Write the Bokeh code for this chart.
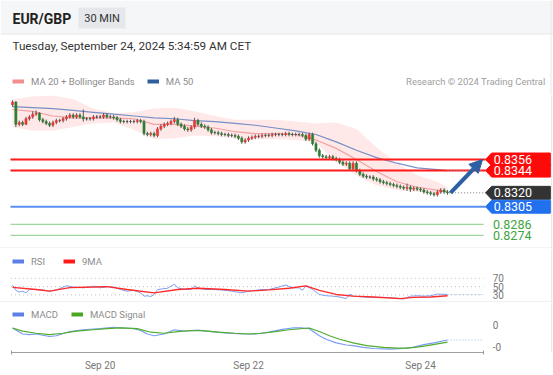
from bokeh.plotting import figure
from bokeh.layouts import column
from bokeh.models import (Range1d, Label, Legend, LegendItem, Span, Arrow, NormalHead,
                          FixedTicker, BoxAnnotation, ColumnDataSource)
from bokeh.core.properties import value
from bokeh.embed import file_html
from bokeh.resources import INLINE

FONT = "Roboto"
W = 553

# ---------------- data ----------------
first_open = 0.8415
closes = [
    0.8418, 0.8394, 0.8396, 0.8394, 0.8400, 0.8402, 0.8405, 0.8406, 0.8399, 0.8397,
    0.8395, 0.8393, 0.8396, 0.8398, 0.8398, 0.8400, 0.8402, 0.8404, 0.8402, 0.8404,
    0.8402, 0.8400, 0.8400, 0.8400, 0.8402, 0.8402, 0.8402, 0.8404, 0.8402, 0.8402,
    0.8401, 0.8399, 0.8397, 0.8397, 0.8397, 0.8397, 0.8397, 0.8398, 0.8397, 0.8384,
    0.8383, 0.8384, 0.8382, 0.8389, 0.8392, 0.8394, 0.8395, 0.8397, 0.8399, 0.8394,
    0.8392, 0.8389, 0.8388, 0.8391, 0.8398, 0.8394, 0.8392, 0.8391, 0.8388, 0.8385,
    0.8385, 0.8384, 0.8383, 0.8383, 0.8382, 0.8382, 0.8381, 0.8379, 0.8375, 0.8377,
    0.8379, 0.8380, 0.8381, 0.8381, 0.8382, 0.8382, 0.8382, 0.8383, 0.8383, 0.8383,
    0.8383, 0.8384, 0.8383, 0.8383, 0.8383, 0.8383, 0.8382, 0.8378, 0.8383, 0.8373,
    0.8366, 0.8360, 0.8359, 0.8358, 0.8359, 0.8357, 0.8356, 0.8353, 0.8351, 0.8352,
    0.8346, 0.8352, 0.8344, 0.8340, 0.8338, 0.8337, 0.8337, 0.8335, 0.8334, 0.8332,
    0.8331, 0.8330, 0.8329, 0.8328, 0.8327, 0.8326, 0.8325, 0.8326, 0.8324, 0.8325,
    0.8324, 0.8323, 0.8321, 0.8320, 0.8319, 0.8318, 0.8321, 0.8323, 0.8321, 0.8320,
]
highs = [
    0.8420, 0.8419, 0.8398, 0.8398, 0.8402, 0.8404, 0.8408, 0.8409, 0.8407, 0.8401,
    0.8399, 0.8397, 0.8398, 0.8400, 0.8400, 0.8402, 0.8404, 0.8406, 0.8406, 0.8406,
    0.8406, 0.8410, 0.8402, 0.8402, 0.8404, 0.8404, 0.8404, 0.8406, 0.8406, 0.8404,
    0.8404, 0.8403, 0.8401, 0.8399, 0.8399, 0.8399, 0.8399, 0.8400, 0.8400, 0.8399,
    0.8386, 0.8386, 0.8386, 0.8391, 0.8394, 0.8396, 0.8397, 0.8399, 0.8402, 0.8401,
    0.8396, 0.8394, 0.8391, 0.8393, 0.8401, 0.8400, 0.8396, 0.8394, 0.8393, 0.8390,
    0.8387, 0.8387, 0.8386, 0.8385, 0.8385, 0.8384, 0.8384, 0.8383, 0.8381, 0.8379,
    0.8381, 0.8382, 0.8383, 0.8383, 0.8384, 0.8384, 0.8384, 0.8385, 0.8385, 0.8385,
    0.8385, 0.8386, 0.8386, 0.8385, 0.8385, 0.8385, 0.8385, 0.8384, 0.8385, 0.8385,
    0.8375, 0.8368, 0.8362, 0.8361, 0.8361, 0.8361, 0.8359, 0.8358, 0.8355, 0.8354,
    0.8354, 0.8354, 0.8354, 0.8346, 0.8342, 0.8340, 0.8339, 0.8339, 0.8337, 0.8336,
    0.8334, 0.8333, 0.8332, 0.8331, 0.8330, 0.8329, 0.8328, 0.8330, 0.8328, 0.8327,
    0.8327, 0.8326, 0.8325, 0.8323, 0.8322, 0.8321, 0.8323, 0.8325, 0.8325, 0.8323,
]
lows = [
    0.8413, 0.8391, 0.8392, 0.8392, 0.8393, 0.8398, 0.8400, 0.8403, 0.8397, 0.8395,
    0.8393, 0.8391, 0.8391, 0.8394, 0.8396, 0.8396, 0.8398, 0.8400, 0.8400, 0.8400,
    0.8400, 0.8397, 0.8398, 0.8398, 0.8398, 0.8400, 0.8400, 0.8400, 0.8400, 0.8400,
    0.8399, 0.8397, 0.8395, 0.8395, 0.8395, 0.8395, 0.8395, 0.8395, 0.8395, 0.8382,
    0.8381, 0.8381, 0.8380, 0.8380, 0.8387, 0.8390, 0.8392, 0.8393, 0.8395, 0.8392,
    0.8390, 0.8387, 0.8386, 0.8386, 0.8389, 0.8392, 0.8390, 0.8389, 0.8386, 0.8383,
    0.8383, 0.8382, 0.8381, 0.8381, 0.8380, 0.8380, 0.8379, 0.8377, 0.8373, 0.8373,
    0.8375, 0.8377, 0.8378, 0.8379, 0.8379, 0.8380, 0.8380, 0.8380, 0.8381, 0.8381,
    0.8381, 0.8381, 0.8381, 0.8381, 0.8381, 0.8381, 0.8380, 0.8376, 0.8376, 0.8371,
    0.8364, 0.8358, 0.8357, 0.8356, 0.8356, 0.8355, 0.8354, 0.8351, 0.8349, 0.8349,
    0.8344, 0.8344, 0.8342, 0.8338, 0.8336, 0.8335, 0.8335, 0.8333, 0.8332, 0.8330,
    0.8329, 0.8328, 0.8327, 0.8326, 0.8325, 0.8324, 0.8323, 0.8322, 0.8321, 0.8322,
    0.8322, 0.8321, 0.8319, 0.8318, 0.8317, 0.8316, 0.8316, 0.8319, 0.8319, 0.8318,
]
opens = [first_open] + closes[:-1]

band_idx = [0, 6, 12, 18, 24, 30, 36, 42, 48, 54, 60, 66, 72, 78, 84, 90, 96, 102, 108, 114, 120, 126, 129]
ma50 = [0.8413, 0.8412, 0.8411, 0.8409, 0.8407, 0.8405, 0.8403, 0.8401, 0.8400, 0.8398, 0.8397, 0.8395,
        0.8393, 0.8390, 0.8387, 0.8383, 0.8375, 0.8366, 0.8358, 0.8352, 0.8347, 0.8345, 0.8344]
ma20 = [0.8410, 0.8408, 0.8403, 0.8401, 0.8401, 0.8401, 0.8400, 0.8394, 0.8394, 0.8392, 0.8390, 0.8386,
        0.8384, 0.8384, 0.8383, 0.8377, 0.8368, 0.8356, 0.8343, 0.8332, 0.8326, 0.8323, 0.8321]
bb_upper = [0.8421, 0.8424, 0.8425, 0.8421, 0.8411, 0.8406, 0.8407, 0.8411, 0.8412, 0.8408, 0.8403, 0.8399,
            0.8399, 0.8399, 0.8397, 0.8395, 0.8396, 0.8389, 0.8369, 0.8352, 0.8339, 0.8332, 0.8326]
bb_lower = [0.8391, 0.8387, 0.8387, 0.8391, 0.8395, 0.8396, 0.8388, 0.8378, 0.8379, 0.8382, 0.8381, 0.8379,
            0.8378, 0.8378, 0.8377, 0.8374, 0.8353, 0.8339, 0.8328, 0.8323, 0.8321, 0.8319, 0.8320]

resistance = [0.8356, 0.8344]
last_price = closes[-1]
support = [0.8305]
support_far = [0.8286, 0.8274]

rsi_idx = [0, 1, 2, 3, 4, 5, 7, 9, 11, 13, 16, 18, 21, 24, 26, 28, 30, 32, 34, 36,
           38, 39, 40, 41, 42, 43, 46, 48, 49, 51, 53, 54, 55, 57, 59, 62, 65, 68, 70, 72,
           74, 76, 79, 81, 83, 85, 86, 87, 89, 91, 93, 95, 97, 99, 100, 101, 104, 107, 111, 114,
           116, 118, 120, 122, 124, 126, 129]
rsi_vals = [54, 41, 37, 39, 35, 43, 43, 42, 39, 42, 52, 49, 47, 51, 47, 50, 49, 43, 39, 41,
            35, 27, 28, 26, 31, 43, 46, 56, 47, 43, 43, 52, 47, 43, 43, 42, 39, 35, 39, 41,
            43, 43, 49, 54, 47, 47, 41, 52, 43, 31, 28, 27, 25, 21, 32, 27, 25, 24, 24, 22,
            20, 27, 28, 27, 28, 32, 31]
rsi_ma_idx = [0, 7, 11, 17, 24, 28, 34, 42, 49, 55, 63, 70, 76, 82, 87, 91, 96, 101, 107, 115, 119, 124, 129]
rsi_ma_vals = [48, 43, 39, 47.5, 49, 50, 43, 35, 43, 46, 43, 39, 42, 46, 52, 41, 31, 27, 25, 21, 24, 25, 28]
rsi_levels = [70, 50, 30]

macd_idx = [0, 3, 5, 7, 11, 13, 17, 21, 26, 30, 33, 36, 38, 40, 42, 45, 48, 51, 55, 59,
            63, 68, 72, 76, 80, 83, 86, 88, 91, 93, 96, 99, 101, 104, 107, 112, 116, 119, 122, 125, 129]
macd_vals = [-0.000057, -0.000165, -0.000178, -0.000165, -0.000210, -0.000197, -0.000121, -0.000089,
             -0.000070, -0.000044, -0.000057, -0.000070, -0.000102, -0.000165, -0.000197, -0.000165,
             -0.000089, -0.000114, -0.000095, -0.000121, -0.000146, -0.000165, -0.000165, -0.000133,
             -0.000083, -0.000057, -0.000057, -0.000070, -0.000197, -0.000260, -0.000324, -0.000362,
             -0.000375, -0.000406, -0.000425, -0.000438, -0.000425, -0.000400, -0.000356, -0.000324,
             -0.000273]
signal_idx = [0, 3, 7, 11, 15, 19, 24, 28, 32, 37, 41, 45, 49, 53, 57, 61, 66, 70, 74, 78,
              82, 88, 91, 94, 97, 101, 105, 110, 114, 117, 120, 123, 126, 129]
signal_vals = [-0.000057, -0.000114, -0.000152, -0.000178, -0.000152, -0.000114, -0.000089, -0.000070,
               -0.000057, -0.000070, -0.000133, -0.000152, -0.000121, -0.000102, -0.000108, -0.000133,
               -0.000152, -0.000165, -0.000152, -0.000121, -0.000089, -0.000057, -0.000121, -0.000197,
               -0.000260, -0.000324, -0.000375, -0.000406, -0.000419, -0.000419, -0.000400, -0.000375,
               -0.000343, -0.000311]
macd_ticks = [0.0, -0.0004]
macd_tick_labels = ["0", "-0"]

date_ticks = [26, 70, 121]
date_labels = ["Sep 20", "Sep 22", "Sep 24"]

BORDER = "#e4e6e9"
X0, X1 = -3.559, 160.44          # shared x range of all panels (candle index)
AX0, AX1 = -0.42, 139.7          # extent of the lower panels' guides / axis

# ---------------- helpers ----------------
def bare(fig):
    fig.grid.visible = False
    fig.outline_line_color = None
    fig.background_fill_color = "white"
    fig.border_fill_color = "white"


def add_legend(fig, labels, colors, loc, anchor_x, anchor_y, spacing=12):
    items = []
    for lab, col in zip(labels, colors):
        # single-point line: draws nothing in the plot, only provides the legend swatch
        r = fig.line(x=[anchor_x], y=[anchor_y], line_color=col, line_width=4)
        items.append(LegendItem(label=lab, renderers=[r]))
    lg = Legend(items=items, orientation="horizontal", location=loc,
                glyph_width=12, glyph_height=12, label_height=12,
                label_standoff=7, spacing=spacing, padding=0, margin=0,
                border_line_color=None, background_fill_alpha=0,
                label_text_font=FONT, label_text_font_size="9.5px",
                label_text_color="#8c8c8c")
    fig.add_layout(lg)


# ---------------- header ----------------
HH = 95
hdr = figure(width=W, height=HH, x_range=Range1d(0, W), y_range=Range1d(HH, 0),
             x_axis_location=None, y_axis_location=None, toolbar_location=None,
             output_backend="svg", min_border=0)
bare(hdr)
hdr.add_layout(BoxAnnotation(left=0, right=W, top=0, bottom=33, fill_color="#f5f6f7",
                             fill_alpha=1, line_color=None, level="underlay"))
hdr.add_layout(Span(location=33.5, dimension="width", line_color=BORDER, line_width=1))
hdr.add_layout(Span(location=550.5, dimension="height", line_color=BORDER, line_width=1))
hdr.add_layout(BoxAnnotation(left=78, right=125, top=7, bottom=28, fill_color="#e5e7ea",
                             fill_alpha=1, line_color=None))
hdr.add_layout(Label(x=12, y=18.5, text="EUR/GBP", text_font=FONT, text_font_size="14px",
                     text_font_style="bold", text_color="#222222", text_baseline="middle"))
hdr.add_layout(Label(x=101.5, y=18, text="30 MIN", text_font=FONT, text_font_size="11px",
                     text_color="#333333", text_baseline="middle", text_align="center"))
hdr.add_layout(Label(x=12, y=45.5, text="Tuesday, September 24, 2024 5:34:59 AM CET",
                     text_font=FONT, text_font_size="11.7px", text_color="#333333",
                     text_baseline="middle"))
hdr.add_layout(Label(x=545, y=81, text="Research \u00a9 2024 Trading Central", text_font=FONT,
                     text_font_size="9.5px", text_color="#a0a0a0", text_baseline="middle",
                     text_align="right"))
add_legend(hdr, ["MA 20 + Bollinger Bands", "MA 50"], ["#f58e8e", "#2f5e9e"], (12, 8),
           band_idx[0], 0)

# ---------------- price panel ----------------
PH = 153
pf = figure(width=W, height=PH, x_range=Range1d(X0, X1),
            y_range=Range1d(0.825988, 0.842512),
            x_axis_location=None, y_axis_location=None, toolbar_location=None,
            output_backend="svg", min_border=0)
bare(pf)

pf.varea(x=band_idx, y1=bb_lower, y2=bb_upper, fill_color="#ffdede", fill_alpha=0.7)
pf.line(band_idx, ma50, line_color="#5f7fbf", line_width=1.2, line_alpha=0.85)
pf.line(band_idx, ma20, line_color="#f4a0a0", line_width=1.2)

idx = list(range(len(closes)))
ccol = []
for o, c in zip(opens, closes):
    if c > o:
        ccol.append("#e53935")
    elif c < o:
        ccol.append("#2e7d32")
    else:
        ccol.append("#444444")
csrc = ColumnDataSource(dict(x=idx, o=opens, c=closes, h=highs, l=lows,
                             top=[max(a, b) for a, b in zip(opens, closes)],
                             bot=[min(a, b) for a, b in zip(opens, closes)], col=ccol))
pf.segment(x0="x", y0="l", x1="x", y1="h", source=csrc, line_color="#555555", line_width=1)
pf.vbar(x="x", width=0.62, top="top", bottom="bot", source=csrc, fill_color="col",
        line_color="col", line_width=0.6)

# level lines
pf.segment(x0=-0.6, y0=resistance, x1=140.3, y1=resistance, line_color="#ff1a1a", line_width=2)
pf.segment(x0=-0.6, y0=support, x1=140.3, y1=support, line_color="#5b8ef2", line_width=2)
pf.segment(x0=-0.6, y0=support_far, x1=139.7, y1=support_far, line_color="#9fd79f", line_width=1.2)

# dotted extensions
pf.segment(x0=129.5, y0=[last_price], x1=140.3, y1=[last_price], line_color="#777777",
           line_width=1, line_dash="1 2")
pf.segment(x0=129.0, y0=[ma50[-1]], x1=139.7, y1=[ma50[-1]], line_color="#9a9a9a",
           line_width=1, line_dash="1 2")

# arrow
ac = "#2c5fa3"
pf.add_layout(Arrow(end=NormalHead(size=13, fill_color=ac, line_color=ac),
                    x_start=129.9, y_start=last_price, x_end=139.4, y_end=resistance[0],
                    line_color=ac, line_width=4))

# price tags
lab_levels = resistance + [last_price] + support
lab_colors = ["#ff0a0a", "#ff0a0a", "#333333", "#2170f0"]
hh = 0.0007
xp, xb, xr = 140.3, 142.1, 159.5
pf.patches(xs=[[xp, xb, xr, xr, xb] for _ in lab_levels],
           ys=[[lv, lv + hh, lv + hh, lv - hh, lv - hh] for lv in lab_levels],
           fill_color=lab_colors, line_color=lab_colors)
pf.text(x=[142.7] * len(lab_levels), y=lab_levels, text=[f"{v:.4f}" for v in lab_levels],
        text_color="white", text_font=value(FONT), text_font_size="12.5px",
        text_baseline="middle")
pf.text(x=[142.5] * len(support_far), y=support_far, text=[f"{v:.4f}" for v in support_far],
        text_color="#3da53d", text_font=value(FONT), text_font_size="12.5px",
        text_baseline="middle")
pf.add_layout(Span(location=0.82604, dimension="width", line_color=BORDER, line_width=1))
pf.add_layout(Span(location=159.9, dimension="height", line_color=BORDER, line_width=1))

# ---------------- RSI panel ----------------
RH = 54
rf = figure(width=W, height=RH, x_range=Range1d(X0, X1), y_range=Range1d(11.7, 141.8),
            x_axis_location=None, y_axis_location=None, toolbar_location=None,
            output_backend="svg", min_border=0)
bare(rf)
rf.segment(x0=AX0, y0=rsi_levels, x1=AX1, y1=rsi_levels, line_color="#bdbdbd",
           line_width=1, line_dash="1 3")
rf.line(rsi_idx, rsi_vals, line_color="#7f9ff0", line_width=1)
rf.line(rsi_ma_idx, rsi_ma_vals, line_color="#ff2a2a", line_width=1.3)
rf.segment(x0=129, y0=[rsi_vals[-1]], x1=AX1, y1=[rsi_vals[-1]], line_color="#9fb6f2",
           line_width=1, line_dash="1 2")
rf.text(x=[142.4] * 3, y=rsi_levels, text=[str(v) for v in rsi_levels], text_font=value(FONT),
        text_font_size="10px", text_color="#777777", text_baseline="middle")
add_legend(rf, ["RSI", "9MA"], ["#5b80e6", "#ff1a1a"], (12, 35), rsi_idx[0], rsi_vals[0])
rf.add_layout(Span(location=13.1, dimension="width", line_color=BORDER, line_width=1))
rf.add_layout(Span(location=159.9, dimension="height", line_color=BORDER, line_width=1))

# ---------------- MACD panel ----------------
MH = 73
mf = figure(width=W, height=MH, x_range=Range1d(X0, X1),
            y_range=Range1d(-0.000497, 0.0004),
            x_axis_location="below", y_axis_location=None, toolbar_location=None,
            output_backend="svg", min_border=0)
mf.min_border_bottom = 23
bare(mf)
mf.line(macd_idx, macd_vals, line_color="#7b9cf2", line_width=1.2)
mf.line(signal_idx, signal_vals, line_color="#4fae2c", line_width=1.2)
mf.segment(x0=129, y0=[macd_vals[-1]], x1=AX1, y1=[macd_vals[-1]], line_color="#9fb6f2",
           line_width=1, line_dash="1 2")
mf.text(x=[142.4] * len(macd_ticks), y=macd_ticks, text=macd_tick_labels, text_font=value(FONT),
        text_font_size="10px", text_color="#777777", text_baseline="middle")
add_legend(mf, ["MACD", "MACD Signal"], ["#5b80e6", "#4aa820"], (12, 32),
           macd_idx[0], macd_vals[0], spacing=13)
mf.add_layout(Span(location=159.9, dimension="height", line_color=BORDER, line_width=1))

xa = mf.xaxis[0]
xa.bounds = (AX0, AX1)
xa.ticker = FixedTicker(ticks=date_ticks, minor_ticks=[AX0 + 0.05, AX1 - 0.05])
xa.major_label_overrides = {t: l for t, l in zip(date_ticks, date_labels)}
xa.major_tick_in = 0
xa.major_tick_out = 0
xa.minor_tick_in = 2
xa.minor_tick_out = 2
xa.minor_tick_line_color = "#999999"
xa.axis_line_color = "#a0a0a0"
xa.major_label_standoff = 5
xa.major_label_text_font = FONT
xa.major_label_text_font_size = "10px"
xa.major_label_text_color = "#777777"

layout = column(hdr, pf, rf, mf, spacing=0)
open("out.html", "w").write(file_html(layout, INLINE))
